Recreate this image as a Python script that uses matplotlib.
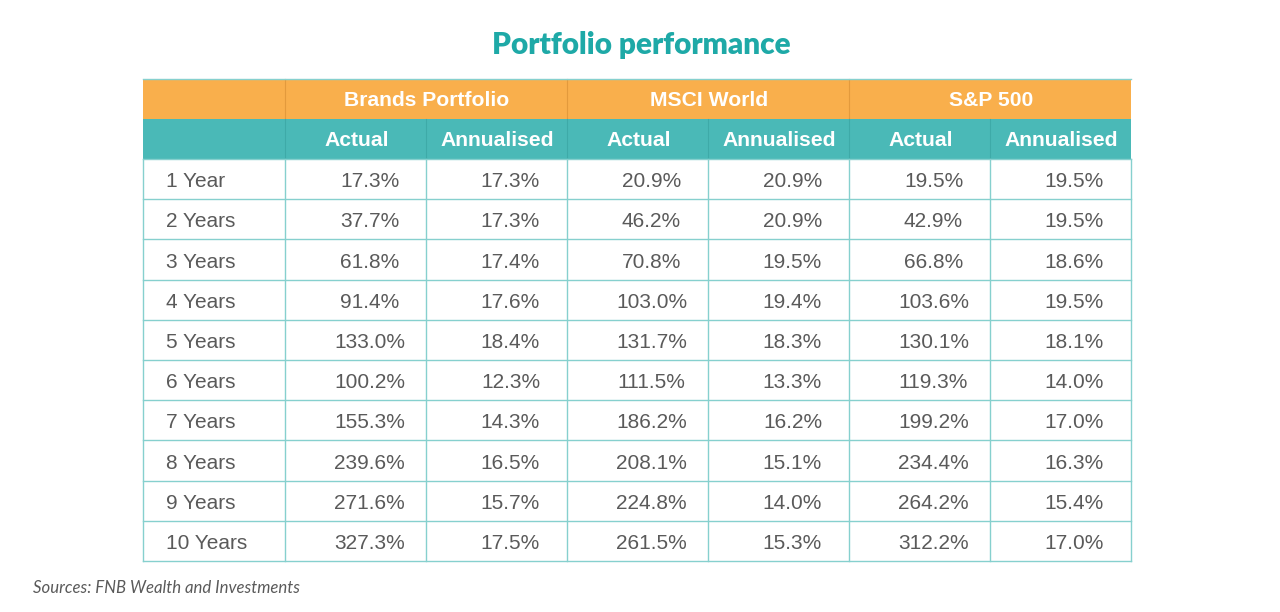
import matplotlib.pyplot as plt
from matplotlib.patches import Rectangle

groups = ['Brands Portfolio', 'MSCI World', 'S&P 500']
sub_headers = ['Actual', 'Annualised']
periods = ['1 Year', '2 Years', '3 Years', '4 Years', '5 Years',
           '6 Years', '7 Years', '8 Years', '9 Years', '10 Years']

brands_actual = ['17.3%', '37.7%', '61.8%', '91.4%', '133.0%',
                 '100.2%', '155.3%', '239.6%', '271.6%', '327.3%']
brands_annual = ['17.3%', '17.3%', '17.4%', '17.6%', '18.4%',
                 '12.3%', '14.3%', '16.5%', '15.7%', '17.5%']
msci_actual = ['20.9%', '46.2%', '70.8%', '103.0%', '131.7%',
               '111.5%', '186.2%', '208.1%', '224.8%', '261.5%']
msci_annual = ['20.9%', '20.9%', '19.5%', '19.4%', '18.3%',
               '13.3%', '16.2%', '15.1%', '14.0%', '15.3%']
sp_actual = ['19.5%', '42.9%', '66.8%', '103.6%', '130.1%',
             '119.3%', '199.2%', '234.4%', '264.2%', '312.2%']
sp_annual = ['19.5%', '19.5%', '18.6%', '19.5%', '18.1%',
             '14.0%', '17.0%', '16.3%', '15.4%', '17.0%']

columns = [brands_actual, brands_annual, msci_actual, msci_annual, sp_actual, sp_annual]

orange = '#f9af4c'
teal = '#4ab9b7'
line = '#86d0ce'
text_grey = '#5a5a5a'

fig = plt.figure(figsize=(12.8, 6.12), dpi=100)
ax = fig.add_axes([0, 0, 1, 1])
ax.set_xlim(0, 1280)
ax.set_ylim(612, 0)
ax.axis('off')

# table geometry
x0 = 143
label_w = 142
col_w = 141
top = 79
head_h = 40
row_h = 40.2
n_cols = len(columns)
right = x0 + label_w + col_w * n_cols
data_top = top + 2 * head_h
bottom = data_top + row_h * len(periods)

# header bands
ax.add_patch(Rectangle((x0, top), right - x0, head_h, color=orange, lw=0))
ax.add_patch(Rectangle((x0, top + head_h), right - x0, head_h, color=teal, lw=0))

# title
ax.text(641, 45, 'Portfolio performance', ha='center', va='center',
        fontsize=21.4, fontweight='heavy', color='#1ea9a7', family='Lato')

# group headers
for g, name in enumerate(groups):
    cx = x0 + label_w + col_w * (2 * g + 1)
    ax.text(cx + 1, top + head_h / 2 + 2, name, ha='center', va='center',
            fontsize=15.2, fontweight='bold', color='white', family='Liberation Sans')
    ax.plot([x0 + label_w + col_w * 2 * g] * 2, [top, top + head_h],
            color='#e39a3c', lw=0.8)

# sub headers
for c in range(n_cols):
    cx = x0 + label_w + col_w * c + col_w / 2
    ax.text(cx + 1, top + 1.5 * head_h + 1.5, sub_headers[c % 2], ha='center', va='center',
            fontsize=15.2, fontweight='bold', color='white', family='Liberation Sans')
    ax.plot([x0 + label_w + col_w * c] * 2, [top + head_h, data_top],
            color='#3eaaa8', lw=0.8)

# data cells
for r, period in enumerate(periods):
    cy = data_top + row_h * r + row_h / 2
    ax.text(x0 + 23, cy + 2.5, period, ha='left', va='center',
            fontsize=15, color=text_grey, family='Liberation Sans')
    for c, col in enumerate(columns):
        cx = x0 + label_w + col_w * c + col_w / 2 + 14
        ax.text(cx, cy + 2.5, col[r], ha='center', va='center',
                fontsize=15, color=text_grey, family='Liberation Sans')

# grid lines
for r in range(len(periods) + 1):
    y = data_top + row_h * r
    ax.plot([x0, right], [y, y], color=line, lw=1)
for c in range(n_cols + 2):
    x = x0 if c == 0 else x0 + label_w + col_w * (c - 1)
    ax.plot([x, x], [data_top, bottom], color=line, lw=1)
ax.plot([x0, right], [top, top], color=line, lw=1)

ax.text(33, 588, 'Sources: FNB Wealth and Investments', ha='left', va='center',
        fontsize=12.1, style='italic', color=text_grey, family='Lato')

fig.savefig('out.png', dpi=100)
